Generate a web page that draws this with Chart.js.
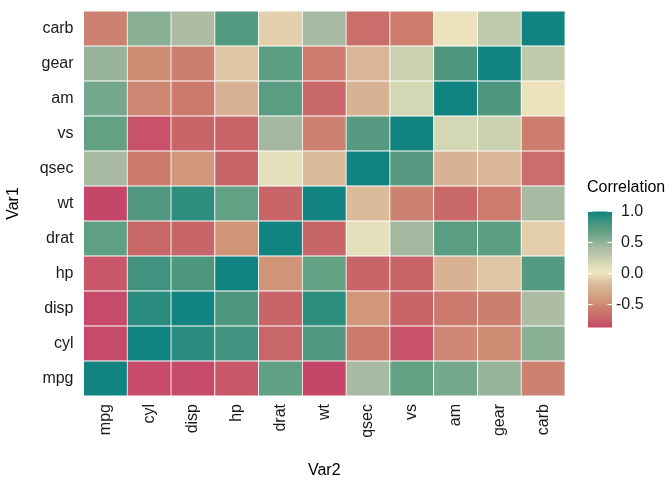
<!DOCTYPE html>
<html lang="en">
<head>
    <meta charset="UTF-8">
    <title>Correlation heatmap</title>
    <script src="https://cdn.jsdelivr.net/npm/chart.js"></script>
    <style>
        body { margin: 0; padding: 0; background: #fff; }
        #heatmap { display: block; }
    </style>
</head>
<body>
    <canvas id="heatmap" width="672" height="480"></canvas>
    <script>
        // variables, bottom row (Var1) / left column (Var2) first
        const vars = ["mpg", "cyl", "disp", "hp", "drat", "wt", "qsec", "vs", "am", "gear", "carb"];

        // correlation rows, one per Var1, columns in the order of vars
        const mpgRow  = [1.00, -0.85, -0.85, -0.78, 0.68, -0.87, 0.42, 0.66, 0.60, 0.48, -0.55];
        const cylRow  = [-0.85, 1.00, 0.90, 0.83, -0.70, 0.78, -0.59, -0.81, -0.52, -0.49, 0.53];
        const dispRow = [-0.85, 0.90, 1.00, 0.79, -0.71, 0.89, -0.43, -0.71, -0.59, -0.56, 0.39];
        const hpRow   = [-0.78, 0.83, 0.79, 1.00, -0.45, 0.66, -0.71, -0.72, -0.24, -0.13, 0.75];
        const dratRow = [0.68, -0.70, -0.71, -0.45, 1.00, -0.71, 0.09, 0.44, 0.71, 0.70, -0.09];
        const wtRow   = [-0.87, 0.78, 0.89, 0.66, -0.71, 1.00, -0.17, -0.55, -0.69, -0.58, 0.43];
        const qsecRow = [0.42, -0.59, -0.43, -0.71, 0.09, -0.17, 1.00, 0.74, -0.23, -0.21, -0.66];
        const vsRow   = [0.66, -0.81, -0.71, -0.72, 0.44, -0.55, 0.74, 1.00, 0.17, 0.21, -0.57];
        const amRow   = [0.60, -0.52, -0.59, -0.24, 0.71, -0.69, -0.23, 0.17, 1.00, 0.79, 0.06];
        const gearRow = [0.48, -0.49, -0.56, -0.13, 0.70, -0.58, -0.21, 0.21, 0.79, 1.00, 0.27];
        const carbRow = [-0.55, 0.53, 0.39, 0.75, -0.09, 0.43, -0.66, -0.57, 0.06, 0.27, 1.00];
        const corrRows = [mpgRow, cylRow, dispRow, hpRow, dratRow, wtRow, qsecRow, vsRow, amRow, gearRow, carbRow];

        const legendTicks = [1.0, 0.5, 0.0, -0.5];

        // colour stops (value -> colour)
        const palette = [
            [-0.87, "#C6466A"], [-0.71, "#C86568"], [-0.57, "#CC7D6E"], [-0.45, "#D09478"],
            [-0.17, "#DABC9A"], [0.00, "#EDE4C0"], [0.06, "#ECE2BE"], [0.17, "#D3D7B3"],
            [0.27, "#BFCAAD"], [0.44, "#A4B8A0"], [0.66, "#62A184"], [0.79, "#4E977F"],
            [0.90, "#2A8C7E"], [1.00, "#118380"]
        ];

        function hexToRgb(h) {
            return [parseInt(h.slice(1, 3), 16), parseInt(h.slice(3, 5), 16), parseInt(h.slice(5, 7), 16)];
        }

        function colorFor(v) {
            if (v <= palette[0][0]) return palette[0][1];
            for (let i = 1; i < palette.length; i++) {
                if (v <= palette[i][0]) {
                    const [v0, c0] = palette[i - 1];
                    const [v1, c1] = palette[i];
                    const t = (v - v0) / (v1 - v0);
                    const a = hexToRgb(c0), b = hexToRgb(c1);
                    const rgb = a.map((x, k) => Math.round(x + (b[k] - x) * t));
                    return `rgb(${rgb[0]}, ${rgb[1]}, ${rgb[2]})`;
                }
            }
            return palette[palette.length - 1][1];
        }

        const fontFamily = "'Liberation Sans', Arial, Helvetica, sans-serif";
        const minCorr = Math.min(...corrRows.flat());

        // colourbar legend on the right
        const colorbarLegend = {
            id: "colorbarLegend",
            afterDraw(chart) {
                const ctx = chart.ctx;
                const x0 = 588, w = 24, top = 211.5, bottom = 327.5;
                const yFor = v => top + (1 - v) / (1 - minCorr) * (bottom - top);

                ctx.save();
                ctx.fillStyle = "#000";
                ctx.font = `16px ${fontFamily}`;
                ctx.textAlign = "left";
                ctx.textBaseline = "alphabetic";
                ctx.fillText("Correlation", 587, 192);

                const grad = ctx.createLinearGradient(0, top, 0, bottom);
                for (let i = 0; i <= 40; i++) {
                    const v = 1 - i / 40 * (1 - minCorr);
                    grad.addColorStop(i / 40, colorFor(v));
                }
                ctx.fillStyle = grad;
                ctx.fillRect(x0, top, w, bottom - top);

                ctx.strokeStyle = "#fff";
                ctx.lineWidth = 1;
                ctx.fillStyle = "#1a1a1a";
                ctx.textBaseline = "middle";
                legendTicks.forEach(t => {
                    const y = yFor(t);
                    ctx.beginPath();
                    ctx.moveTo(x0, y); ctx.lineTo(x0 + 4.5, y);
                    ctx.moveTo(x0 + w - 4.5, y); ctx.lineTo(x0 + w, y);
                    ctx.stroke();
                    ctx.fillText(t.toFixed(1), t < 0 ? 616 : 621, y);
                });
                ctx.restore();
            }
        };

        new Chart(document.getElementById("heatmap"), {
            type: "bar",
            data: {
                labels: vars,
                datasets: corrRows.map((row, i) => ({
                    label: vars[i],
                    data: vars.map(() => 1),
                    backgroundColor: row.map(colorFor),
                    borderColor: "#fff",
                    borderWidth: 0.75,
                    borderSkipped: false,
                    barPercentage: 1,
                    categoryPercentage: 1
                }))
            },
            options: {
                responsive: false,
                animation: false,
                layout: { padding: { top: 11, right: 107, bottom: 0, left: 0 } },
                plugins: { legend: { display: false }, tooltip: { enabled: false } },
                scales: {
                    x: {
                        stacked: true,
                        grid: { display: false, drawTicks: false },
                        border: { display: false },
                        ticks: {
                            autoSkip: false, maxRotation: 90, minRotation: 90, padding: 8,
                            color: "#1a1a1a", font: { family: fontFamily, size: 16 }
                        },
                        title: {
                            display: true, text: "Var2", color: "#000",
                            padding: { top: 0, bottom: 0 },
                            font: { family: fontFamily, size: 16 }
                        },
                        afterFit(scale) {
                            scale.height = 84;
                            scale.paddingLeft = 0;
                            scale.paddingRight = 0;
                        }
                    },
                    y: {
                        type: "linear",
                        stacked: true,
                        min: 0,
                        max: vars.length,
                        grid: { display: false, drawTicks: false },
                        border: { display: false },
                        afterBuildTicks(scale) {
                            scale.ticks = vars.map((v, i) => ({ value: i + 0.5 }));
                        },
                        ticks: {
                            padding: 10, color: "#1a1a1a",
                            font: { family: fontFamily, size: 16 },
                            callback: (value, index) => vars[index]
                        },
                        title: {
                            display: true, text: "Var1", color: "#000",
                            padding: { top: 4, bottom: 0 },
                            font: { family: fontFamily, size: 16 }
                        },
                        afterFit(scale) {
                            scale.width = 83.5;
                            scale.paddingTop = 0;
                            scale.paddingBottom = 0;
                        }
                    }
                }
            },
            plugins: [colorbarLegend]
        });
    </script>
</body>
</html>
